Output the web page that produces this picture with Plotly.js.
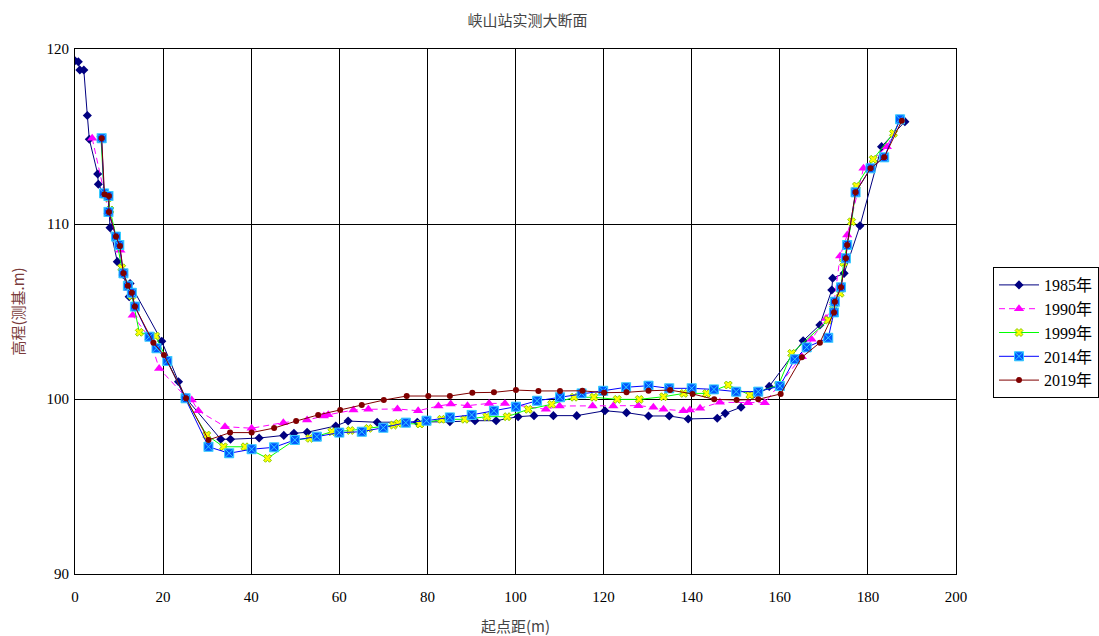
<!DOCTYPE html>
<html><head><meta charset="utf-8">
<script src="https://cdn.plot.ly/plotly-3.0.1.min.js"></script>
<style>html,body{margin:0;padding:0;background:#fff}#chart{width:1099px;height:636px}</style>
</head><body><div id="chart"></div>
<script>
const x1985 = [0,0.75,1.1,2,2.8,3.25,5.15,5.3,6.6,7.6,7.95,9.6,11,12.3,12.5,19.7,23.5,25,33.1,35.3,41.8,47.4,49.7,52.7,59.2,62,68.6,77.7,85.1,90.8,95.6,100.6,104.2,108.6,113.9,120.3,125.2,130.2,134.9,139.2,145.8,147.6,151.2,157.6,165.3,169.1,171.8,172,174.6,178.2,183.1,188.4];
const y1985 = [119.33,119.27,118.8,118.8,116.2,114.84,112.86,112.27,111.7,111.5,109.79,107.85,107.1,105.85,106.6,103.3,100.99,100.1,97.7,97.7,97.77,97.92,98.04,98.1,98.46,98.74,98.67,98.67,98.7,98.76,98.76,98.99,99.05,99.05,99.05,99.33,99.22,99.03,99.03,98.86,98.9,99.18,99.53,100.72,103.33,104.23,106.23,106.9,107.18,109.9,114.42,115.85];
const x1990 = [3.9,6.6,7.6,9.3,10.3,11,12.2,13.1,16.9,19.1,25.2,26.5,28,34.05,40.1,47.3,52.7,56.5,57.5,63.2,66.6,73.2,77.9,82.5,85.3,89.1,94,97.6,106.9,110,117.5,122.2,127.9,131.3,133.6,138.1,139.6,141.9,146.4,152.8,156.6,165,167.2,170.5,172.3,173.7,175.3,179,184.3,187.3];
const y1990 = [114.9,111.7,110.7,109.3,108.5,107.2,106.3,104.78,103.5,101.75,100.1,99.94,99.33,98.42,98.33,98.65,98.8,99.03,99.1,99.37,99.41,99.43,99.33,99.6,99.71,99.62,99.75,99.75,99.41,99.6,99.6,99.6,99.62,99.53,99.41,99.33,99.37,99.47,99.81,99.79,99.79,102.42,103.41,104.6,105.5,108.17,109.37,113.18,114.42,115.94];
const x1999 = [5.9,6.6,7.6,7.95,9.3,10.6,12,12.9,14.6,18.3,25,29.9,33.7,38.6,43.7,49.9,53.3,58.3,62.5,66.6,72.3,73.4,78.3,83.2,88.5,93.5,98.1,102.9,108.2,113.3,117.8,123.1,128.1,133.6,138.2,143.4,148.3,153.2,159.7,162.7,171,172.2,173.7,174.5,176.3,177.4,181.2,185.8,187.3];
const y1999 = [114.9,111.7,111.5,110.8,109.3,107.5,106.5,105.9,103.81,103.6,100.05,97.94,97.27,97.27,96.61,97.66,97.75,98.13,98.2,98.32,98.51,98.61,98.57,98.84,98.84,98.99,98.99,99.41,99.7,100.1,100.1,99.98,99.98,100.13,100.32,100.32,100.8,100.23,100.8,102.61,104.51,105.4,106.04,107.8,110.13,112.17,113.7,115.18,115.94];
const x2014 = [6.05,6.6,7.6,7.6,9.3,10.06,11,12,12.9,13.6,16.9,18.5,20.96,25.1,30.3,35,40.1,45.2,49.9,54.9,60,65.1,70,75.1,79.8,85.1,90.05,95.1,100.1,104.9,110.1,115,119.9,125.1,130.2,134.9,140,145.05,150.1,155.1,160,163.4,166.1,171,172.3,172.5,173.9,175,175.3,177.2,180.6,183.7,187.3];
const y2014 = [114.9,111.75,111.6,110.69,109.28,108.8,107.18,106.47,106.07,105.28,103.56,102.9,102.17,100.04,97.27,96.9,97.13,97.24,97.66,97.85,98.08,98.13,98.36,98.65,98.76,98.95,99.09,99.33,99.56,99.9,100.1,100.32,100.47,100.67,100.76,100.61,100.61,100.55,100.42,100.42,100.74,102.27,102.95,103.5,104.95,105.56,106.38,108.04,108.8,111.81,113.18,113.81,115.98];
const x2019 = [6.05,6.7,7.7,7.7,9.3,10.2,11,12,12.9,13.6,17.8,20.2,25.2,30.3,35.2,40.1,45.2,50.2,55.2,60.2,65.1,70.1,75.3,80.2,85.1,90.2,95.1,100.1,105.2,110.1,115.2,120.1,125.2,130.2,135.1,140.2,145.1,150.2,155.1,160.2,165,169.1,172.3,172.5,173.9,175,175.3,177.2,180.6,183.7,187.7];
const y2019 = [114.9,111.7,111.6,110.69,109.28,108.74,107.18,106.47,106.07,105.28,103.22,102.51,100.04,97.66,98.08,98.08,98.34,98.74,99.09,99.37,99.66,99.94,100.17,100.17,100.17,100.36,100.38,100.51,100.46,100.46,100.47,100.36,100.38,100.47,100.51,100.29,99.98,99.94,99.98,100.29,102.38,103.22,104.95,105.56,106.38,108.04,108.8,111.81,113.18,113.81,115.9];
const seriesNames = ['1985年','1990年','1999年','2014年','2019年'];
const xTicks = [0,20,40,60,80,100,120,140,160,180,200];
const yTicks = [90,100,110,120];

const traces = [
  {x:x1985,y:y1985,name:seriesNames[0],mode:'lines+markers',line:{color:'#000080',width:1},marker:{symbol:'diamond',size:7,color:'#000080'}},
  {x:x1990,y:y1990,name:seriesNames[1],mode:'lines+markers',line:{color:'#ff00ff',width:1,dash:'6px,4px'},marker:{symbol:'triangle-up',size:9,color:'#ff00ff'}},
  {x:x1999,y:y1999,name:seriesNames[2],mode:'lines+markers',line:{color:'#00ff00',width:1},marker:{symbol:'x',size:7,color:'#ffff00',line:{color:'#88cc00',width:1}}},
  {x:x2014,y:y2014,name:seriesNames[3],mode:'lines+markers',line:{color:'#0000ff',width:1},marker:{symbol:'square-x',size:9,color:'#0055ff',line:{color:'#33ccff',width:1}}},
  {x:x2019,y:y2019,name:seriesNames[4],mode:'lines+markers',line:{color:'#800000',width:1},marker:{symbol:'circle',size:6,color:'#800000'}}
];
const fontFam = '"Liberation Serif","Noto Sans CJK SC",serif';
const layout = {
  width:1099,height:636,
  margin:{l:75,r:143,t:49,b:62,autoexpand:false},
  paper_bgcolor:'#fff',plot_bgcolor:'#fff',
  font:{family:fontFam,size:14,color:'#000'},
  title:{text:'峡山站实测大断面',x:0.48,xanchor:'center',y:0.968,yanchor:'middle',font:{family:'"Noto Sans CJK SC",sans-serif',size:15,color:'#444'}},
  xaxis:{range:[0,200],tickvals:xTicks,ticktext:xTicks.map(String),showgrid:true,gridcolor:'#000',gridwidth:1,showline:true,linecolor:'#000',linewidth:1,mirror:true,zeroline:false,ticks:'',ticklen:0,ticklabelstandoff:9,
    tickfont:{family:fontFam,size:15,color:'#000'},
    title:{text:'起点距(m)',font:{family:'"Noto Sans CJK SC",sans-serif',size:15,color:'#444'},standoff:18}},
  yaxis:{range:[90,120],tickvals:yTicks,ticktext:yTicks.map(String),showgrid:true,gridcolor:'#000',gridwidth:1,showline:true,linecolor:'#000',linewidth:1,mirror:true,zeroline:false,ticks:'',ticklabelstandoff:2,
    tickfont:{family:fontFam,size:15,color:'#000'},
    title:{text:'高程(测基.m)',font:{family:'"Noto Sans CJK SC",sans-serif',size:15,color:'#7a3b3b'},standoff:18}},
  showlegend:true,
  legend:{x:1.042,xanchor:'left',y:0.46,yanchor:'middle',bordercolor:'#000',borderwidth:1,bgcolor:'#fff',
    font:{family:fontFam,size:16,color:'#000'},itemwidth:40}
};
Plotly.newPlot('chart',traces,layout,{displayModeBar:false,staticPlot:true});
</script></body></html>
